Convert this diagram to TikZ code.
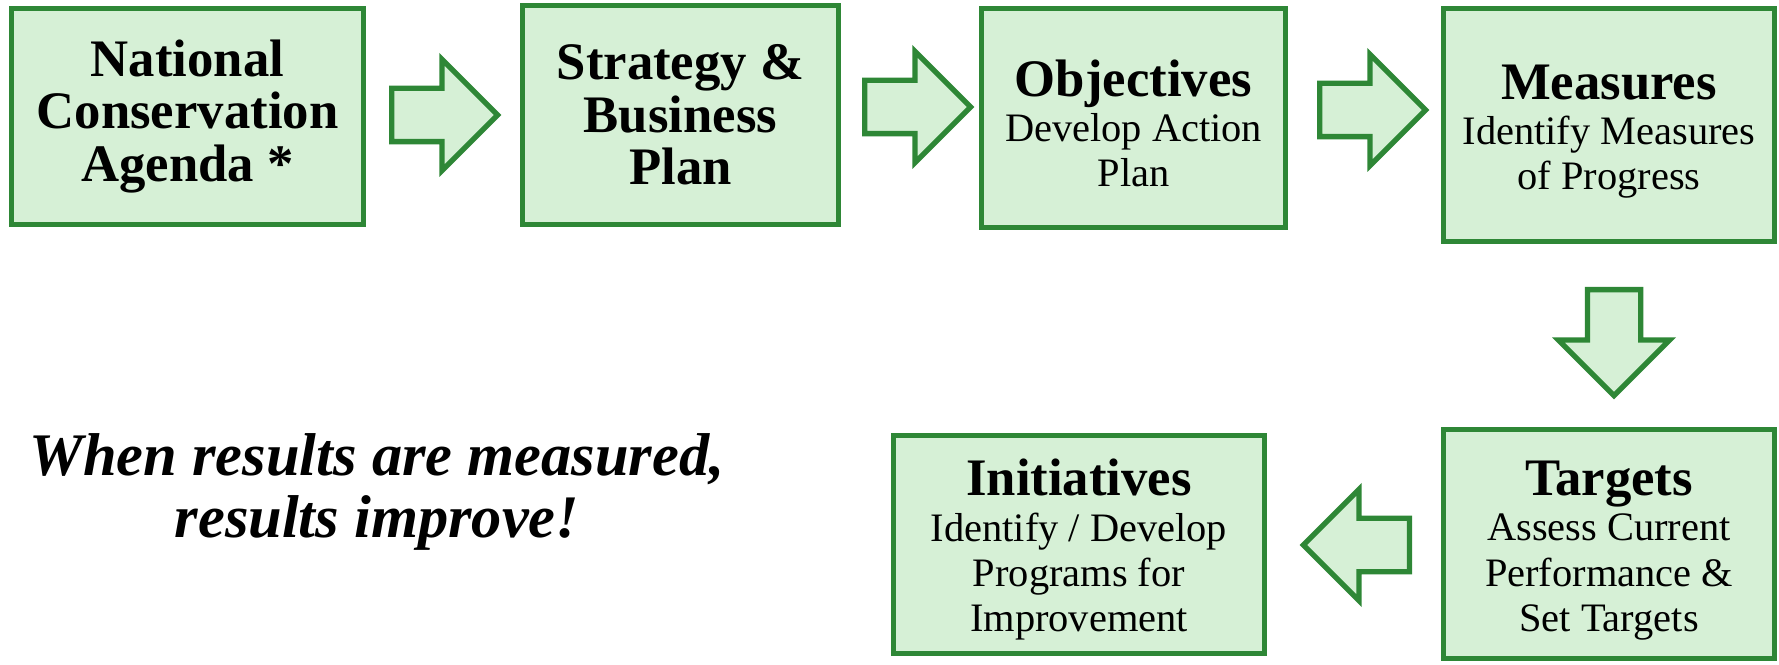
\documentclass[tikz,border=0pt]{standalone}
\usepackage{fontspec}
\setmainfont{Liberation Serif}
\usepackage{tikz}
\usetikzlibrary{shapes.arrows, calc}
\definecolor{EdgeGreen}{HTML}{2E8736}
\definecolor{PaleGreen}{HTML}{D6F0D6}
\newcommand{\stagehead}[1]{{\fontsize{15}{15}\selectfont\bfseries\rule{0pt}{13.5pt}#1}}

\begin{document}
\begin{tikzpicture}[
        stage/.style={draw=EdgeGreen, fill=PaleGreen, line width=1.5pt, align=center,
                      inner sep=0pt, font=\fontsize{11.5}{12.9}\selectfont},
        plain/.style={stage, font=\fontsize{15}{15}\selectfont\bfseries},
        flow/.style={single arrow, draw=EdgeGreen, fill=PaleGreen, line width=1.5pt,
                     minimum width=0pt, minimum height=1.06cm, inner xsep=0pt,
                     inner ysep=0.24cm, single arrow head extend=0.29cm, anchor=tail},
      ]
        \useasboundingbox (0,0) rectangle (17.79,6.64);
        \node[plain, minimum width=3.52cm, minimum height=2.16cm] (agenda) at (1.875,5.475)
            {National\\Conservation\\Agenda *};
        \node[plain, minimum width=3.16cm, minimum height=2.19cm] (strategy) at (6.805,5.49)
            {Strategy \&\\Business\\Plan};
        \node[stage, minimum width=3.04cm, minimum height=2.19cm] (objectives) at (11.335,5.46)
            {\stagehead{Objectives}\\Develop Action\\Plan};
        \node[stage, minimum width=3.31cm, minimum height=2.33cm] (measures) at (16.09,5.39)
            {\stagehead{Measures}\\Identify Measures\\of Progress};
        \node[stage, minimum width=3.31cm, minimum height=2.29cm] (targets) at (16.09,1.20)
            {\stagehead{Targets}\\Assess Current\\Performance \&\\Set Targets};
        \node[stage, minimum width=3.71cm, minimum height=2.18cm] (initiatives) at (10.79,1.195)
            {\stagehead{Initiatives}\\Identify / Develop\\Programs for\\Improvement};

        \node[flow] (agenda-strategy) at (3.89,5.49) {};
        \node[flow] (strategy-objectives) at (8.62,5.57) {};
        \node[flow] (objectives-measures) at (13.17,5.54) {};
        \node[flow, rotate=-90] (measures-targets) at (16.14,3.77) {};
        \node[flow, rotate=180] (targets-initiatives) at (14.12,1.19) {};

        \node[align=center, font=\fontsize{17.2}{17.5}\selectfont\bfseries\itshape] (motto) at (3.77,1.72)
            {When results are measured,\\results improve!};
      \end{tikzpicture}
\end{document}
